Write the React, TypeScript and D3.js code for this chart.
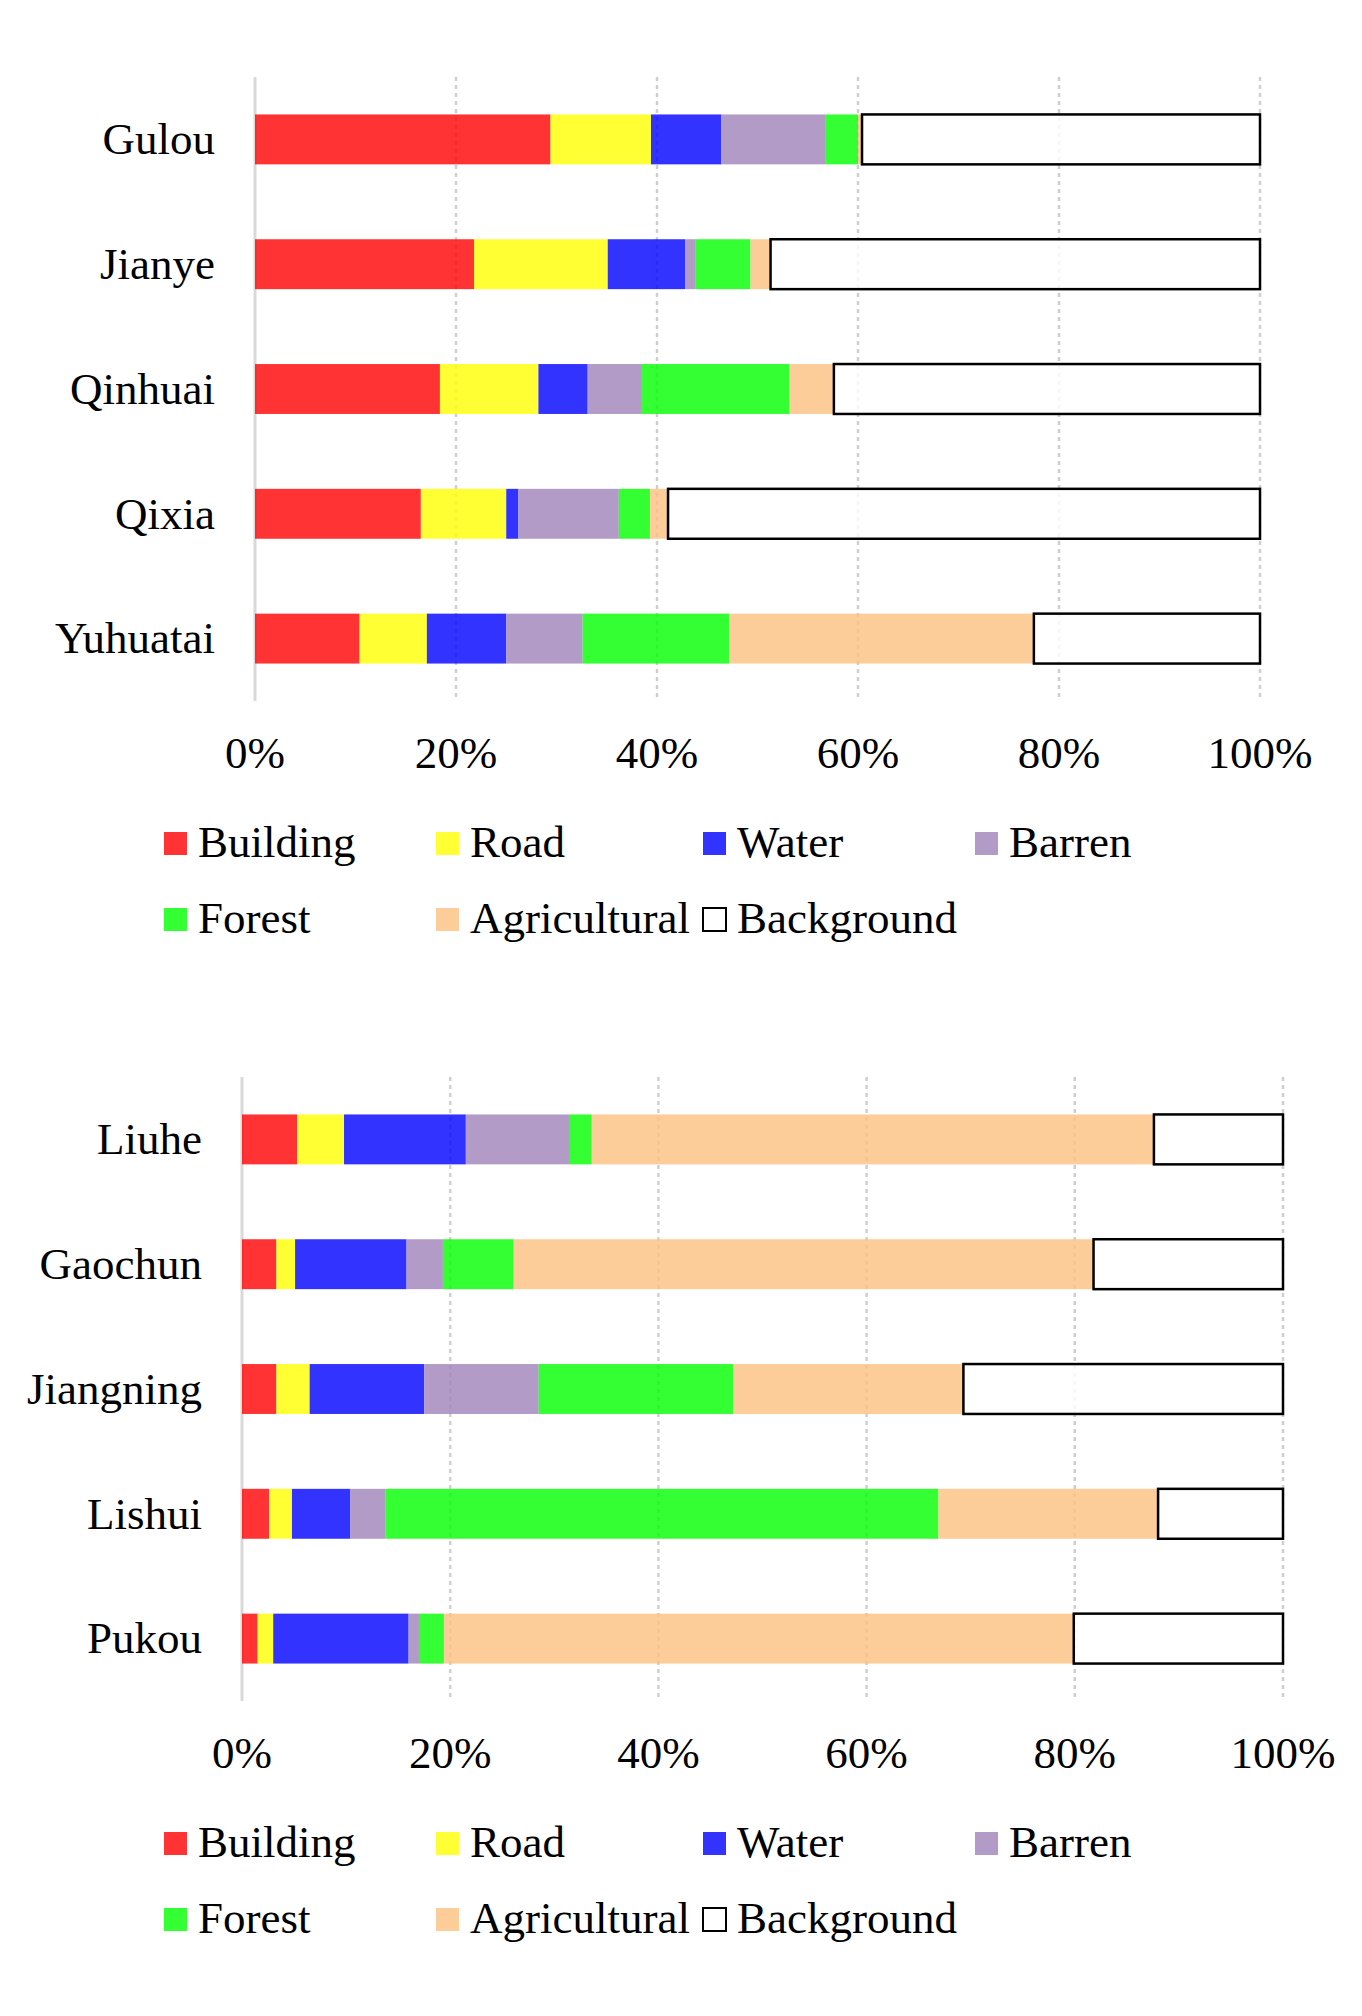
import * as d3 from "d3";
import * as React from "react";

const classes = ["Building", "Road", "Water", "Barren", "Forest", "Agricultural", "Background"];
const colors = ["#ff0000", "#ffff00", "#0000ff", "#9f82b8", "#00ff00", "#fcc17f", "#ffffff"];

const urbanDistricts = ["Gulou", "Jianye", "Qinhuai", "Qixia", "Yuhuatai"];
const urbanBuilding = [29.4, 21.8, 18.4, 16.5, 10.4];
const urbanRoad = [10.0, 13.3, 9.8, 8.5, 6.7];
const urbanWater = [7.0, 7.7, 4.9, 1.2, 7.9];
const urbanBarren = [10.4, 1.0, 5.4, 10.0, 7.6];
const urbanForest = [3.2, 5.5, 14.7, 3.1, 14.6];
const urbanAgricultural = [0.4, 2.0, 4.4, 1.8, 30.3];
const urbanBackground = [39.6, 48.7, 42.4, 58.9, 22.5];

const suburbDistricts = ["Liuhe", "Gaochun", "Jiangning", "Lishui", "Pukou"];
const suburbBuilding = [5.3, 3.3, 3.3, 2.6, 1.5];
const suburbRoad = [4.5, 1.8, 3.2, 2.2, 1.5];
const suburbWater = [11.7, 10.7, 11.0, 5.6, 13.0];
const suburbBarren = [10.0, 3.5, 11.0, 3.4, 1.0];
const suburbForest = [2.1, 6.8, 18.7, 53.1, 2.4];
const suburbAgricultural = [54.0, 55.7, 22.1, 21.1, 60.5];
const suburbBackground = [12.4, 18.2, 30.7, 12.0, 20.1];

const ticks = [0, 20, 40, 60, 80, 100];

const font = "'Liberation Serif', 'Times New Roman', serif";

interface Row {
  district: string;
  [key: string]: number | string;
}

function buildRows(districts: string[], series: number[][]): Row[] {
  return districts.map((d, i) => {
    const row: Row = { district: d };
    classes.forEach((c, k) => (row[c] = series[k][i]));
    return row;
  });
}

interface PanelProps {
  top: number;
  left: number;
  right: number;
  rows: Row[];
}

function Panel({ top, left, right, rows }: PanelProps) {
  const plotTop = top + 77;
  const plotBottom = top + 701;

  const x = d3.scaleLinear([0, 100], [left, right]);
  const y = d3
    .scaleBand<string>()
    .domain(rows.map((r) => r.district))
    .range([plotTop, plotBottom])
    .paddingInner(0.6)
    .paddingOuter(0.3);

  const stacked = d3.stack<Row>().keys(classes).value((d, key) => d[key] as number)(rows);

  const legendCols = [164, 436, 703, 975];
  const legendRows = [top + 832, top + 908];

  return (
    <g>
      {ticks.slice(1).map((t) => (
        <line
          key={t}
          x1={x(t)}
          x2={x(t)}
          y1={plotTop}
          y2={plotBottom}
          stroke="#cfcfcf"
          strokeWidth={2.5}
          strokeDasharray="4,4"
        />
      ))}
      <line x1={x(0)} x2={x(0)} y1={plotTop} y2={plotBottom} stroke="#d9d9d9" strokeWidth={3} />

      {stacked.map((layer, k) => (
        <g key={layer.key}>
          {layer.map((seg, i) => (
            <rect
              key={i}
              x={x(seg[0])}
              y={y(seg.data.district)}
              width={x(seg[1]) - x(seg[0])}
              height={y.bandwidth()}
              fill={colors[k]}
              fillOpacity={0.8}
              stroke={layer.key === "Background" ? "#000" : "none"}
              strokeWidth={2.5}
            />
          ))}
        </g>
      ))}

      {rows.map((r) => (
        <text
          key={r.district}
          x={left - 40}
          y={(y(r.district) ?? 0) + y.bandwidth() / 2}
          dy="0.33em"
          textAnchor="end"
          fontSize={45}
          fontFamily={font}
        >
          {r.district}
        </text>
      ))}

      {ticks.map((t) => (
        <text key={t} x={x(t)} y={top + 768} textAnchor="middle" fontSize={45} fontFamily={font}>
          {t}%
        </text>
      ))}

      {classes.map((c, k) => {
        const col = k % 4;
        const row = Math.floor(k / 4);
        const sx = legendCols[col];
        const sy = legendRows[row];
        return (
          <g key={c}>
            <rect
              x={sx}
              y={sy}
              width={23}
              height={23}
              fill={colors[k]}
              fillOpacity={0.8}
              stroke={c === "Background" ? "#000" : "none"}
              strokeWidth={2}
            />
            <text x={sx + 34} y={sy + 25} fontSize={45} fontFamily={font}>
              {c}
            </text>
          </g>
        );
      })}
    </g>
  );
}

export default function App() {
  const urbanRows = buildRows(urbanDistricts, [
    urbanBuilding,
    urbanRoad,
    urbanWater,
    urbanBarren,
    urbanForest,
    urbanAgricultural,
    urbanBackground,
  ]);
  const suburbRows = buildRows(suburbDistricts, [
    suburbBuilding,
    suburbRoad,
    suburbWater,
    suburbBarren,
    suburbForest,
    suburbAgricultural,
    suburbBackground,
  ]);

  return (
    <svg
      width={1362}
      height={2016}
      viewBox="0 0 1362 2016"
      style={{ position: "absolute", left: 0, top: 0, background: "#fff" }}
    >
      <Panel top={0} left={255} right={1260} rows={urbanRows} />
      <Panel top={1000} left={242} right={1283} rows={suburbRows} />
    </svg>
  );
}
